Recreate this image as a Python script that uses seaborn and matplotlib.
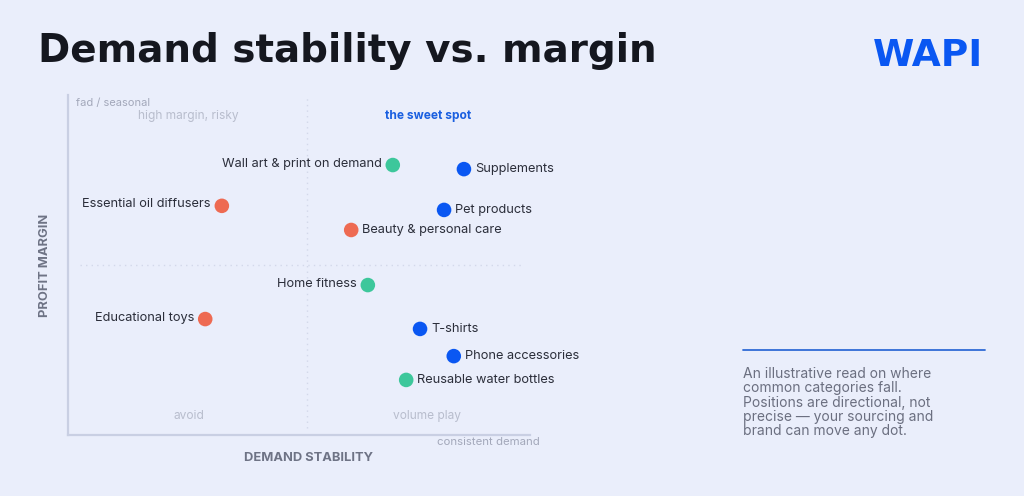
import seaborn as sns
import matplotlib.pyplot as plt
import pandas as pd

# data (0-100 on both axes)
categories = ['Wall art & print on demand', 'Supplements', 'Essential oil diffusers',
              'Pet products', 'Beauty & personal care', 'Home fitness',
              'Educational toys', 'T-shirts', 'Phone accessories', 'Reusable water bottles']
stability = [70.3, 85.7, 33.3, 81.4, 61.3, 64.9, 29.7, 76.2, 83.5, 73.2]
margin = [79.4, 78.2, 67.4, 66.2, 60.3, 44.1, 34.1, 31.2, 23.2, 16.2]
group = ['green', 'blue', 'red', 'blue', 'red', 'green', 'red', 'blue', 'blue', 'green']
label_side = ['left', 'right', 'left', 'right', 'right', 'left', 'left', 'right', 'right', 'right']

palette = {'blue': '#0A57F2', 'green': '#3DC79B', 'red': '#EE6A52'}
BG = '#EAEEFB'

df = pd.DataFrame({'category': categories, 'stability': stability,
                   'margin': margin, 'group': group, 'side': label_side})

sns.set_style('white')
plt.rcParams['font.family'] = ['Inter', 'DejaVu Sans']

fig = plt.figure(figsize=(10.24, 4.96), dpi=100, facecolor=BG)
# axes box: x 68..530 px, y 95..435 px
ax = fig.add_axes([68 / 1024, 1 - 435 / 496, 462 / 1024, 340 / 496])
ax.set_facecolor(BG)

sns.scatterplot(data=df, x='stability', y='margin', hue='group', palette=palette,
                s=110, edgecolor='none', legend=False, ax=ax, zorder=3)

for _, r in df.iterrows():
    if r['side'] == 'left':
        ax.annotate(r['category'], (r['stability'], r['margin']), xytext=(-8, 1),
                    textcoords='offset points', ha='right', va='center',
                    fontsize=9.2, color='#2B2E3A')
    else:
        ax.annotate(r['category'], (r['stability'], r['margin']), xytext=(8, 0),
                    textcoords='offset points', ha='left', va='center',
                    fontsize=9.2, color='#2B2E3A')

ax.set_xlim(0, 100)
ax.set_ylim(0, 100)
ax.set_xticks([])
ax.set_yticks([])
ax.set_xlabel('')
ax.set_ylabel('')
for s in ['top', 'right']:
    ax.spines[s].set_visible(False)
for s in ['left', 'bottom']:
    ax.spines[s].set_color('#C9CFE3')
    ax.spines[s].set_linewidth(1.6)

# quadrant dividers
ax.plot([51.7, 51.7], [2, 100], ls=(0, (1, 3)), color='#D3D8EA', lw=1, zorder=1)
ax.plot([2.5, 98.5], [50, 50], ls=(0, (1, 3)), color='#D3D8EA', lw=1, zorder=1)

# quadrant labels
ax.text(1.7, 97.6, 'fad / seasonal', fontsize=8, color='#A3A8BA', ha='left', va='center')
ax.text(26, 93.8, 'high margin, risky', fontsize=8.6, color='#B8BDCD', ha='center', va='center')
ax.text(77.9, 93.8, 'the sweet spot', fontsize=8.6, color='#1A5FE0', ha='center',
        va='center', fontweight='bold')
ax.text(26.2, 5.6, 'avoid', fontsize=8.6, color='#B8BDCD', ha='center', va='center')
ax.text(77.7, 5.6, 'volume play', fontsize=8.6, color='#B8BDCD', ha='center', va='center')
ax.text(102.2, -2, 'consistent demand', fontsize=8.2, color='#A3A8BA', ha='right',
        va='center', clip_on=False)

fig.text(308 / 1024, 1 - 458 / 496, 'DEMAND STABILITY', fontsize=9.3, color='#6E7385',
         ha='center', va='center', fontweight='bold')
fig.text(45 / 1024, 1 - 265 / 496, 'PROFIT MARGIN', fontsize=9.3, color='#6E7385',
         ha='center', va='center', fontweight='bold', rotation=90)

# title and logo
fig.text(38 / 1024, 1 - 51 / 496, 'Demand stability vs. margin', fontsize=28,
         fontweight='bold', color='#15171F', ha='left', va='center', family='DejaVu Sans')
fig.text(928 / 1024, 1 - 56 / 496, 'WAPI', fontsize=27, color='#0A57F2', fontweight='bold',
         ha='center', va='center', family='DejaVu Sans')

# side note
fig.add_artist(plt.Line2D([743 / 1024, 985 / 1024], [1 - 350 / 496, 1 - 350 / 496],
                          color='#2F6BD6', lw=1.3))
fig.text(743 / 1024, 1 - 367 / 496,
         'An illustrative read on where\ncommon categories fall.\n'
         'Positions are directional, not\nprecise \u2014 your sourcing and\n'
         'brand can move any dot.',
         fontsize=10, color='#6B6F80', ha='left', va='top', linespacing=1.03)

fig.savefig('out.png', dpi=100, facecolor=BG)
